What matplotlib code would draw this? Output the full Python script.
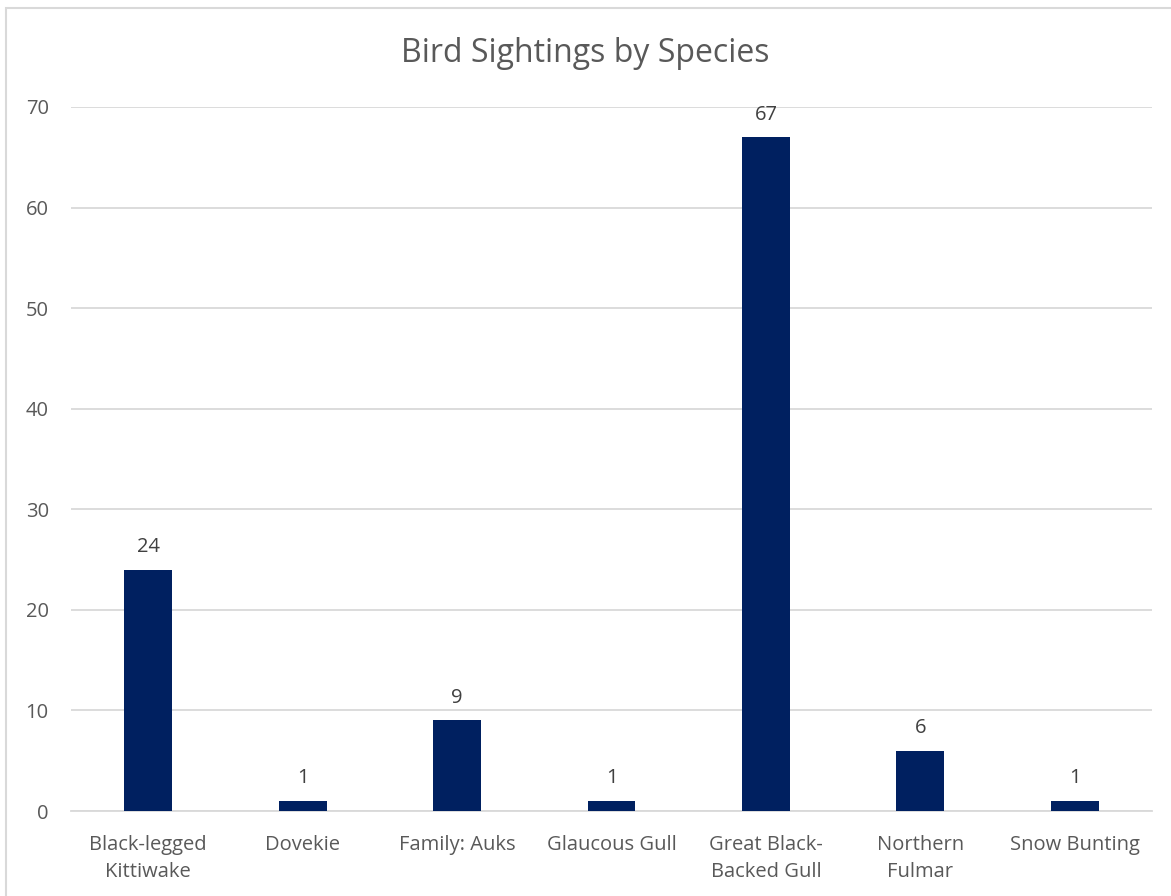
import matplotlib.pyplot as plt
from matplotlib.patches import Rectangle
import numpy as np

species = ["Black-legged\nKittiwake", "Dovekie", "Family: Auks", "Glaucous Gull",
           "Great Black-\nBacked Gull", "Northern\nFulmar", "Snow Bunting"]
sightings = [24, 1, 9, 1, 67, 6, 1]
yticks = [0, 10, 20, 30, 40, 50, 60, 70]

plt.rcParams['font.family'] = ['Open Sans', 'DejaVu Sans']
text_col = "#595959"

fig = plt.figure(figsize=(11.71, 8.96), dpi=100)
ax = fig.add_axes([71 / 1171, 85 / 896, (1152 - 71) / 1171, (811 - 107) / 896])

x = np.arange(len(species))
bars = ax.bar(x, sightings, width=0.31, color="#002060", zorder=3)
for b, v in zip(bars, sightings):
    ax.annotate(str(v), (b.get_x() + b.get_width() / 2, v), xytext=(0, 9),
                textcoords="offset points", ha="center", va="bottom",
                fontsize=14.5, color="#404040")

ax.set_xlim(-0.5, len(species) - 0.5)
ax.set_ylim(0, 70)
ax.set_yticks(yticks)
ax.set_xticks(x)
ax.set_xticklabels(species, fontsize=14.5, color=text_col, linespacing=1.5)
ax.tick_params(axis="y", labelsize=14.5, labelcolor=text_col, length=0, pad=16)
ax.tick_params(axis="x", length=0, pad=17)
ax.yaxis.grid(True, color="#d9d9d9", linewidth=1.3, zorder=0)
for s in ["top", "right", "left"]:
    ax.spines[s].set_visible(False)
ax.spines["bottom"].set_color("#d9d9d9")
ax.spines["bottom"].set_linewidth(1.3)

fig.text(0.5, 1 - 54 / 896, "Bird Sightings by Species", ha="center", va="center",
         fontsize=23, color=text_col)

# chart frame
fig.patches.append(Rectangle((6 / 1171, -0.1), 1.2, 1 - 8 / 896 + 0.1,
                             transform=fig.transFigure, fill=False,
                             edgecolor="#d9d9d9", linewidth=1.5))

fig.savefig("out.png", dpi=100)
